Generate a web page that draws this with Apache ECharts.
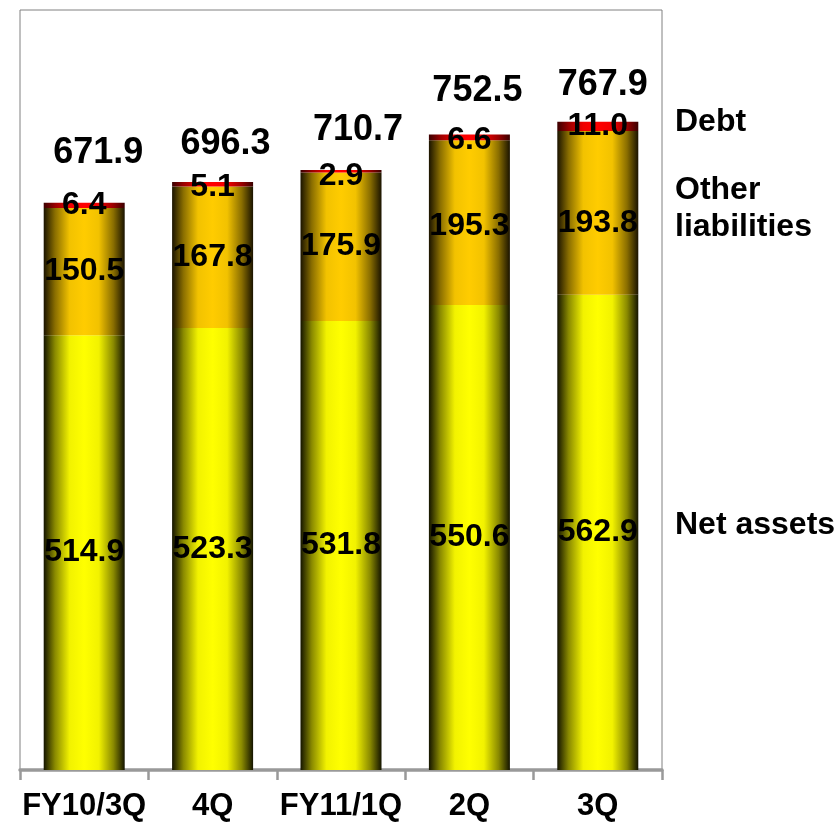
<!DOCTYPE html>
<html>
<head>
<meta charset="utf-8">
<title>Net assets and liabilities</title>
<script src="https://cdn.jsdelivr.net/npm/echarts@6/dist/echarts.min.js"></script>
<style>
  html, body { margin: 0; padding: 0; background: #ffffff; }
  #chart { width: 838px; height: 822px; }
</style>
</head>
<body>
<div id="chart"></div>
<script>
// Quarterly balance (stacked): net assets, other liabilities, debt
const categories = ['FY10/3Q', '4Q', 'FY11/1Q', '2Q', '3Q'];
const netAssets = [514.9, 523.3, 531.8, 550.6, 562.9];
const otherLiabilities = [150.5, 167.8, 175.9, 195.3, 193.8];
const debt = [6.4, 5.1, 2.9, 6.6, 11.0];
const totals = [671.9, 696.3, 710.7, 752.5, 767.9];
const seriesNames = ['Net assets', 'Other\nliabilities', 'Debt'];

// Hand-placed label nudges (pixels)
const totalLabelOffset = [[14, -50], [13, -38], [17, -40], [8, -43], [5, -36]];
const otherLabelNudge = [0, 0, 0, 4, 10];
const debtLabelNudge = [0, 3, 5, 3, 0];

const FONT = "'Liberation Sans', Arial, Helvetica, sans-serif";

// Cylinder-like shading: dark edges, bright centre
function shade(edge, mid, near, centre) {
  return {
    type: 'linear', x: 0, y: 0, x2: 1, y2: 0,
    colorStops: [
      { offset: 0, color: edge },
      { offset: 0.14, color: mid },
      { offset: 0.32, color: near },
      { offset: 0.5, color: centre },
      { offset: 0.68, color: near },
      { offset: 0.86, color: mid },
      { offset: 1, color: edge }
    ]
  };
}

const yellow = shade('#141400', '#8a8a00', '#f2f200', '#ffff00');
const orange = shade('#1a1300', '#8a6e00', '#f2c200', '#ffcc00');
const red = shade('#3a0000', '#990000', '#f00000', '#ff0000');

const segLabel = {
  show: true,
  position: 'inside',
  color: '#000',
  fontFamily: FONT,
  fontWeight: 'bold',
  fontSize: 32,
  formatter: p => Number(p.value).toFixed(1)
};

function barSeries(name, values, color, nudge) {
  return {
    name: name,
    type: 'bar',
    stack: 'total',
    data: values.map((v, i) => nudge
      ? { value: v, label: { offset: [0, nudge[i]] } }
      : v),
    barWidth: 81,
    itemStyle: { color: color },
    label: segLabel,
    emphasis: { disabled: true },
    animation: false
  };
}

const chart = echarts.init(document.getElementById('chart'), null, { renderer: 'canvas' });

chart.setOption({
  backgroundColor: '#ffffff',
  animation: false,
  grid: {
    left: 20, right: 176, top: 10, bottom: 52,
    show: true, borderColor: '#808080', borderWidth: 1,
    backgroundColor: 'transparent'
  },
  xAxis: {
    type: 'category',
    data: categories,
    axisLine: { show: true, lineStyle: { color: '#999999', width: 3.5 } },
    axisTick: { show: true, interval: 0, length: 10, lineStyle: { color: '#999999', width: 2.5 } },
    axisLabel: {
      interval: 0,
      color: '#000', fontFamily: FONT, fontWeight: 'bold', fontSize: 31, margin: 21
    }
  },
  yAxis: {
    type: 'value', min: 0, max: 900,
    show: false,
    splitLine: { show: false }
  },
  series: [
    barSeries(seriesNames[0], netAssets, yellow, null),
    barSeries(seriesNames[1], otherLiabilities, orange, otherLabelNudge),
    barSeries(seriesNames[2], debt, red, debtLabelNudge),
    {
      name: 'Total',
      type: 'scatter',
      symbolSize: 1,
      itemStyle: { color: 'rgba(255,255,255,0)', opacity: 1 },
      data: totals.map((v, i) => ({
        value: [i, v],
        label: { offset: totalLabelOffset[i] }
      })),
      label: {
        show: true,
        position: 'inside',
        color: '#000',
        opacity: 1,
        textBorderWidth: 0,
        fontFamily: FONT,
        fontWeight: 'bold',
        fontSize: 36,
        formatter: p => p.value[1].toFixed(1)
      },
      emphasis: { disabled: true },
      silent: true,
      z: 5
    }
  ]
});

// Series names to the right of the last bar, level with its segments
const last = categories.length - 1;
const segs = [netAssets[last], otherLiabilities[last], debt[last]];
const nameShift = [-7, -4, -4];
let base = 0;
const legendTexts = segs.map((v, k) => {
  const mid = base + v / 2;
  base += v;
  const y = chart.convertToPixel({ xAxisIndex: 0, yAxisIndex: 0 }, [last, mid])[1];
  return {
    type: 'text',
    x: 675,
    y: y + nameShift[k],
    style: {
      text: seriesNames[k],
      fill: '#000',
      font: 'bold 32px ' + FONT,
      lineHeight: 37,
      verticalAlign: 'middle'
    }
  };
});
chart.setOption({ graphic: legendTexts });
</script>
</body>
</html>
